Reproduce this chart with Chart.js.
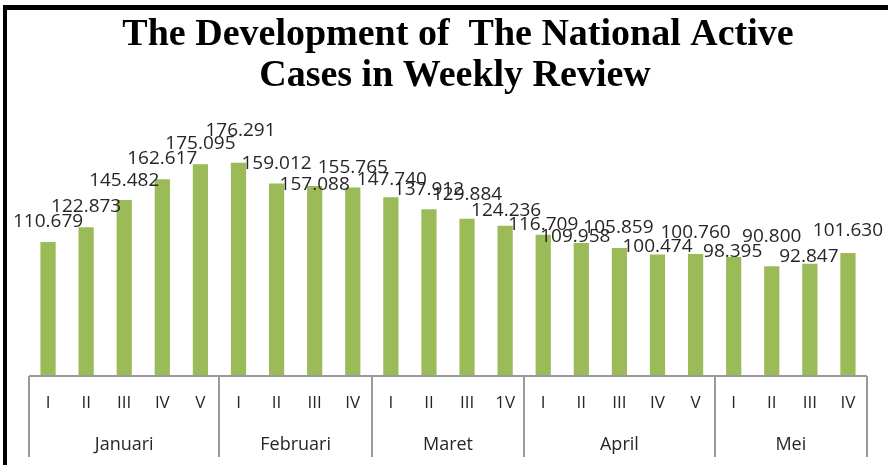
<!DOCTYPE html>
<html>
<head>
<meta charset="utf-8">
<script src="https://cdn.jsdelivr.net/npm/chart.js@4/dist/chart.umd.min.js"></script>
<style>
  html, body { margin: 0; padding: 0; background: #fff; }
  #wrap { width: 888px; height: 465px; }
</style>
</head>
<body>
<div id="wrap"><canvas id="myChart" width="888" height="465"></canvas></div>
<script>
// data
const months = ['Januari', 'Februari', 'Maret', 'April', 'Mei'];
const weeks = ['I', 'II', 'III', 'IV', 'V',
               'I', 'II', 'III', 'IV',
               'I', 'II', 'III', '1V',
               'I', 'II', 'III', 'IV', 'V',
               'I', 'II', 'III', 'IV'];
const monthOf = [0, 0, 0, 0, 0, 1, 1, 1, 1, 2, 2, 2, 2, 3, 3, 3, 3, 3, 4, 4, 4, 4];
const activeCases = [110.679, 122.873, 145.482, 162.617, 175.095,
                     176.291, 159.012, 157.088, 155.765,
                     147.740, 137.912, 129.884, 124.236,
                     116.709, 109.958, 105.859, 100.474, 100.760,
                     98.395, 90.800, 92.847, 101.630];
const titleLines = ['The Development of  The National Active', 'Cases in Weekly Review'];

// label nudges [dx, gap above bar] - the labels in the original were moved by hand
const labelNudge = [[0,15],[0,15],[0,14],[0,15],[0,15],[2,27],[0,15],[0,-4],[0,15],[1,12],[0,14],
                    [0,19],[1,10],[0,5],[-6,1],[-1,15],[0,2],[0,16],[-1,0],[0,24],[-1,2],[0,17]];

const textColor = '#262626';
const lineColor = '#9a9a9a';

const decorPlugin = {
    id: 'decor',
    beforeDraw(chart) {
        const c = chart.ctx;
        c.save();
        c.fillStyle = '#fff';
        c.fillRect(0, 0, chart.width, chart.height);
        // black frame, left and top
        c.fillStyle = '#000';
        c.fillRect(3, 5, chart.width - 3, 5);
        c.fillRect(3, 5, 4, chart.height - 5);
        // title
        c.fillStyle = '#000';
        c.font = 'bold 38px "Liberation Serif"';
        c.textAlign = 'center';
        c.textBaseline = 'alphabetic';
        c.fillText(titleLines[0], 458, 45);
        c.fillText(titleLines[1], 455, 86);
        c.restore();
    },
    afterDatasetsDraw(chart) {
        const c = chart.ctx;
        const meta = chart.getDatasetMeta(0);
        c.save();
        c.fillStyle = textColor;
        c.font = '19px "Open Sans"';
        c.textAlign = 'center';
        c.textBaseline = 'alphabetic';
        meta.data.forEach(function(bar, i) {
            const n = labelNudge[i];
            c.fillText(activeCases[i].toFixed(3), bar.x + n[0], bar.y - n[1]);
        });
        c.restore();
    },
    afterDraw(chart) {
        const c = chart.ctx;
        const x = chart.scales.x;
        const area = chart.chartArea;
        const step = (area.right - area.left) / weeks.length;
        c.save();
        c.strokeStyle = lineColor;
        c.lineWidth = 2;
        c.beginPath();
        c.moveTo(area.left, area.bottom);
        c.lineTo(area.right, area.bottom);
        c.stroke();

        // group separators
        const bounds = [0];
        for (var i = 1; i < monthOf.length; i++) {
            if (monthOf[i] != monthOf[i - 1]) bounds.push(i);
        }
        bounds.push(monthOf.length);
        bounds.forEach(function(b) {
            const px = Math.round(area.left + b * step);
            c.beginPath();
            c.moveTo(px, area.bottom);
            c.lineTo(px, area.bottom + 81);
            c.stroke();
        });

        c.fillStyle = textColor;
        c.textAlign = 'center';
        c.textBaseline = 'alphabetic';
        c.font = '17px "Open Sans"';
        weeks.forEach(function(w, i) {
            c.fillText(w, x.getPixelForValue(i), area.bottom + 32);
        });
        c.font = '18px "Open Sans"';
        for (var m = 0; m < months.length; m++) {
            const first = bounds[m], last = bounds[m + 1] - 1;
            const cx = (x.getPixelForValue(first) + x.getPixelForValue(last)) / 2;
            c.fillText(months[m], cx, area.bottom + 74);
        }
        c.restore();
    }
};

const ctx = document.getElementById('myChart');
const myChart = new Chart(ctx, {
    type: 'bar',
    data: {
        labels: weeks,
        datasets: [{
            label: 'Active cases',
            data: activeCases,
            backgroundColor: '#9bbb59',
            borderWidth: 0,
            categoryPercentage: 1,
            barPercentage: 0.4
        }]
    },
    options: {
        responsive: false,
        animation: false,
        layout: {
            padding: { left: 29, right: 21, top: 134, bottom: 89 }
        },
        plugins: {
            legend: { display: false },
            tooltip: { enabled: false },
            title: { display: false }
        },
        scales: {
            x: {
                display: false,
                grid: { display: false }
            },
            y: {
                display: false,
                min: 0,
                max: 200
            }
        }
    },
    plugins: [decorPlugin]
});
</script>
</body>
</html>
